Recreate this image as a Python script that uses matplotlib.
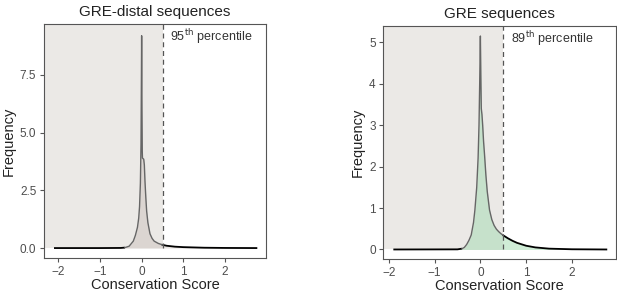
import numpy as np
import matplotlib
matplotlib.use("Agg")
import matplotlib.pyplot as plt

# ---- data ----
distal_x = [-2.1, -1.0, -0.5, -0.4, -0.3, -0.2, -0.15, -0.1, -0.07, -0.05, -0.03, -0.015,
            -0.005, 0.0, 0.008, 0.015, 0.02, 0.05, 0.065, 0.08, 0.1, 0.12, 0.15, 0.2,
            0.25, 0.3, 0.4, 0.5, 0.6, 0.8, 1.0, 1.5, 2.0, 2.75]
distal_y = [0.0, 0.0, 0.005, 0.02, 0.08, 0.3, 0.55, 0.9, 1.3, 1.8, 2.8, 4.5,
            7.5, 9.2, 6.0, 4.2, 3.9, 3.85, 3.6, 2.9, 2.2, 1.6, 1.1, 0.62,
            0.42, 0.3, 0.2, 0.14, 0.1, 0.06, 0.04, 0.015, 0.005, 0.0]

gre_x = [-1.9, -0.5, -0.4, -0.35, -0.3, -0.25, -0.2, -0.15, -0.12, -0.08, -0.05, -0.03,
         -0.015, 0.0, 0.01, 0.02, 0.035, 0.05, 0.07, 0.09, 0.12, 0.15, 0.2, 0.25, 0.3,
         0.35, 0.4, 0.45, 0.5, 0.6, 0.7, 0.8, 1.0, 1.2, 1.5, 2.0, 2.75]
gre_y = [0.0, 0.003, 0.02, 0.05, 0.12, 0.22, 0.35, 0.65, 0.95, 1.5, 2.2, 3.0,
         4.0, 5.15, 4.2, 3.4, 3.25, 3.0, 2.6, 2.3, 1.8, 1.4, 0.95, 0.72, 0.58,
         0.49, 0.43, 0.38, 0.34, 0.27, 0.21, 0.16, 0.09, 0.05, 0.02, 0.005, 0.0]

titles = ["GRE-distal sequences", "GRE sequences"]
percentile_values = [0.5, 0.5]
percentile_labels = ["95", "89"]
xticks = [-2, -1, 0, 1, 2]
yticks_distal = [0.0, 2.5, 5.0, 7.5]
yticks_gre = [0, 1, 2, 3, 4, 5]

plt.rcParams['font.family'] = ['Liberation Sans', 'DejaVu Sans']

fig = plt.figure(figsize=(6.17, 2.93), dpi=100)
ax1 = fig.add_axes([0.0713, 0.1195, 0.3598, 0.7986])
ax2 = fig.add_axes([0.6212, 0.116, 0.3771, 0.795])

panels = [
    (ax1, distal_x, distal_y, titles[0], percentile_values[0], percentile_labels[0],
     yticks_distal, ["0.0", "2.5", "5.0", "7.5"], (-2.34, 2.98), (-0.43, 9.71),
     "#dbd5d1", "#e8e4e1"),
    (ax2, gre_x, gre_y, titles[1], percentile_values[1], percentile_labels[1],
     yticks_gre, [str(v) for v in yticks_gre], (-2.12, 2.96), (-0.23, 5.39),
     "#c6e1cb", "#cfecd6"),
]

for (ax, xs, ys, title, p, plab, yt, ytl, xl, yl, fin, fout) in panels:
    xs = np.array(xs); ys = np.array(ys)
    ax.set_xlim(*xl); ax.set_ylim(*yl)
    # shaded region left of percentile
    ax.fill_between([xl[0], p], 0, yl[1], color="#ebe9e6", lw=0, zorder=0)
    # density fill
    left = xs <= p
    yp = np.interp(p, xs, ys)
    xl_ = np.append(xs[left], p); yl_ = np.append(ys[left], yp)
    xr_ = np.insert(xs[~left], 0, p); yr_ = np.insert(ys[~left], 0, yp)
    ax.fill_between(xl_, 0, yl_, color=fin, lw=0, zorder=1)
    ax.fill_between(xr_, 0, yr_, color=fout, lw=0, zorder=1)
    # lines: black baseline/tail, gray outline over the shaded peak
    base = xs <= -0.4
    ax.plot(xs[base], ys[base], color="black", lw=1.3, zorder=2, solid_capstyle="butt")
    ax.plot(xr_, yr_, color="black", lw=1.3, zorder=2, solid_joinstyle="round")
    peak = xl_ >= -0.4
    ax.plot(xl_[peak], yl_[peak], color="#666666", lw=1.0, zorder=3, solid_joinstyle="round")
    ax.vlines(p, 0, yl[1], colors="#555555", linestyles=(0, (4, 3)), lw=0.9, zorder=4)
    ax.text(p + 0.17, yl[1] - (yl[1] - yl[0]) * 0.055, plab + r"$^{\mathrm{th}}$ percentile",
            fontsize=9, color="#333333", ha="left", va="center", zorder=5)
    ax.set_xticks(xticks)
    ax.set_xticklabels(["\u22122", "\u22121", "0", "1", "2"])
    ax.set_yticks(yt)
    ax.set_yticklabels(ytl)
    ax.tick_params(colors="#555555", labelcolor="#4d4d4d", labelsize=8.5, length=3, width=0.8, pad=2.5)
    for s in ax.spines.values():
        s.set_color("#555555"); s.set_linewidth(0.8)
    ax.set_xlabel("Conservation Score", fontsize=10.5, color="#222222", labelpad=0)
    ax.set_ylabel("Frequency", fontsize=10.5, color="#222222", labelpad=3)
    ax.set_title(title, fontsize=11, color="#222222", pad=6)

fig.savefig("out.png", dpi=100)
